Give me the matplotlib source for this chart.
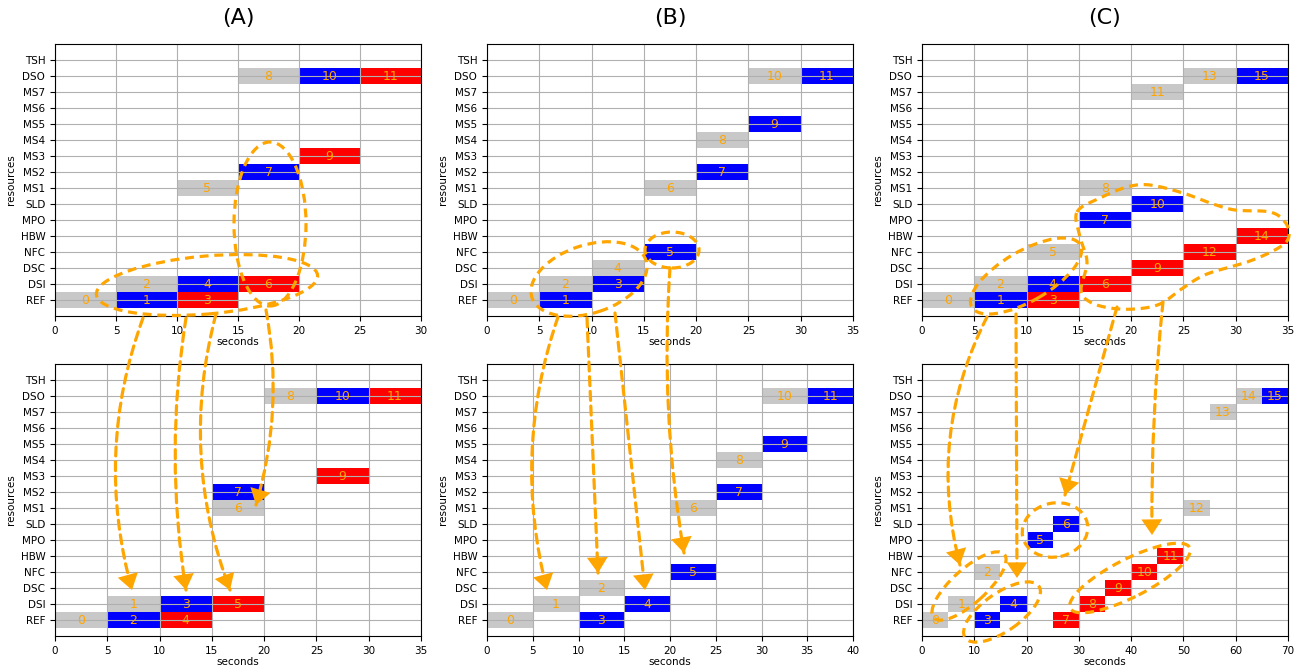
import numpy as np
import matplotlib
matplotlib.use("Agg")
import matplotlib.pyplot as plt
from matplotlib.patches import Ellipse, FancyArrowPatch, PathPatch
from matplotlib.path import Path
from matplotlib.transforms import Affine2D

RESOURCES = ["REF", "DSI", "DSC", "NFC", "HBW", "MPO", "SLD", "MS1",
             "MS2", "MS3", "MS4", "MS5", "MS6", "MS7", "DSO", "TSH"]
TASK_LEN = 5  # every task lasts 5 s
COLORS = {"g": "#c8c8c8", "b": "blue", "r": "red"}

# (A) top / bottom
a_top_res = ["REF", "REF", "DSI", "REF", "DSI", "MS1", "DSI", "MS2", "DSO", "MS3", "DSO", "DSO"]
a_top_start = [0, 5, 5, 10, 10, 10, 15, 15, 15, 20, 20, 25]
a_top_kind = ["g", "b", "g", "r", "b", "g", "r", "b", "g", "r", "b", "r"]

a_bot_res = ["REF", "DSI", "REF", "DSI", "REF", "DSI", "MS1", "MS2", "DSO", "MS3", "DSO", "DSO"]
a_bot_start = [0, 5, 5, 10, 10, 15, 15, 15, 20, 25, 25, 30]
a_bot_kind = ["g", "g", "b", "b", "r", "r", "g", "b", "g", "r", "b", "r"]

# (B) top / bottom
b_top_res = ["REF", "REF", "DSI", "DSI", "DSC", "NFC", "MS1", "MS2", "MS4", "MS5", "DSO", "DSO"]
b_top_start = [0, 5, 5, 10, 10, 15, 15, 20, 20, 25, 25, 30]
b_top_kind = ["g", "b", "g", "b", "g", "b", "g", "b", "g", "b", "g", "b"]

b_bot_res = ["REF", "DSI", "DSC", "REF", "DSI", "NFC", "MS1", "MS2", "MS4", "MS5", "DSO", "DSO"]
b_bot_start = [0, 5, 10, 10, 15, 20, 20, 25, 25, 30, 30, 35]
b_bot_kind = ["g", "g", "g", "b", "b", "b", "g", "b", "g", "b", "g", "b"]

# (C) top / bottom
c_top_res = ["REF", "REF", "DSI", "REF", "DSI", "NFC", "DSI", "MPO", "MS1", "DSC",
             "SLD", "MS7", "NFC", "DSO", "HBW", "DSO"]
c_top_start = [0, 5, 5, 10, 10, 10, 15, 15, 15, 20, 20, 20, 25, 25, 30, 30]
c_top_kind = ["g", "b", "g", "r", "b", "g", "r", "b", "g", "r", "b", "g", "r", "g", "r", "b"]

c_bot_res = ["REF", "DSI", "NFC", "REF", "DSI", "MPO", "SLD", "REF", "DSI", "DSC",
             "NFC", "HBW", "MS1", "MS7", "DSO", "DSO"]
c_bot_start = [0, 5, 10, 10, 15, 20, 25, 25, 30, 35, 40, 45, 50, 55, 60, 65]
c_bot_kind = ["g", "g", "g", "b", "b", "b", "b", "r", "r", "r", "r", "r", "g", "g", "g", "b"]

PANELS = [
    # title, row, col, res, start, kind, xmax, xstep
    ("(A)", 0, 0, a_top_res, a_top_start, a_top_kind, 30, 5),
    (None, 1, 0, a_bot_res, a_bot_start, a_bot_kind, 35, 5),
    ("(B)", 0, 1, b_top_res, b_top_start, b_top_kind, 35, 5),
    (None, 1, 1, b_bot_res, b_bot_start, b_bot_kind, 40, 5),
    ("(C)", 0, 2, c_top_res, c_top_start, c_top_kind, 35, 5),
    (None, 1, 2, c_bot_res, c_bot_start, c_bot_kind, 70, 10),
]

W, H = 1302, 671
COL_LEFT = [55, 487, 922]
AX_W = 366
ROW_TOP = [44, 364]
AX_H = 272


def draw_schedule(ax, res, start, kind, xmax, xstep):
    y = [RESOURCES.index(r) for r in res]
    ax.barh(y, [TASK_LEN] * len(y), left=start, height=1.0,
            color=[COLORS[k] for k in kind])
    for i, (yy, s) in enumerate(zip(y, start)):
        ax.text(s + TASK_LEN / 2, yy, str(i), ha="center", va="center",
                color="orange", fontsize=9)
    ax.set_yticks(range(len(RESOURCES)))
    ax.set_yticklabels(RESOURCES)
    ax.set_ylim(-1, len(RESOURCES))
    ax.set_xlim(0, xmax)
    ax.set_xticks(np.arange(0, xmax + 1, xstep))
    ax.tick_params(labelsize=7.5)
    ax.grid(True)
    ax.set_xlabel("seconds", fontsize=7.5, labelpad=1)
    ax.set_ylabel("resources", fontsize=7.5, labelpad=3)


fig = plt.figure(figsize=(W / 100, H / 100), dpi=100)

for title, row, col, res, start, kind, xmax, xstep in PANELS:
    left = COL_LEFT[col] / W
    bottom = 1 - (ROW_TOP[row] + AX_H) / H
    ax = fig.add_axes([left, bottom, AX_W / W, AX_H / H])
    draw_schedule(ax, res, start, kind, xmax, xstep)
    if title:
        fig.text((COL_LEFT[col] + AX_W / 2) / W, 1 - 18 / H, title,
                 ha="center", va="center", fontsize=16)

# ---- orange dashed annotations, placed in pixel units (origin top-left) ----
px = Affine2D().scale(1 / fig.dpi) + fig.dpi_scale_trans
ORANGE = "orange"
LW = 2.3
DASH = (0, (2.8, 1.8))


def P(x, y):
    return (x, H - y)


def ellipse(cx, cy, w, h, angle=0):
    e = Ellipse(P(cx, cy), w, h, angle=angle, fill=False, ec=ORANGE,
                lw=LW, ls=DASH, transform=px, zorder=10)
    fig.add_artist(e)


def arrow(x0, y0, x1, y1, rad=0.0):
    conn = f"arc3,rad={rad}"
    # dashed shaft
    shaft = FancyArrowPatch(P(x0, y0), P(x1, y1), arrowstyle="-",
                            connectionstyle=conn, color=ORANGE, lw=LW, ls=DASH,
                            shrinkA=0, shrinkB=0, transform=px, zorder=10)
    # solid filled head (shaft stroke hidden with lw=0)
    head = FancyArrowPatch(P(x0, y0), P(x1, y1),
                           arrowstyle="-|>,head_length=0.45,head_width=0.3",
                           mutation_scale=25, connectionstyle=conn,
                           fc=ORANGE, ec="none", lw=0, shrinkA=0, shrinkB=0,
                           transform=px, zorder=11)
    fig.add_artist(shaft)
    fig.add_artist(head)


def blob(pts, n=16):
    # closed Catmull-Rom outline through the given points
    pts = np.array([P(*p) for p in pts], float)
    m = len(pts)
    t = np.linspace(0, 1, n, endpoint=False)[:, None]
    segs = []
    for i in range(m):
        p0, p1, p2, p3 = pts[i - 1], pts[i], pts[(i + 1) % m], pts[(i + 2) % m]
        segs.append(0.5 * (2 * p1 + (-p0 + p2) * t
                           + (2 * p0 - 5 * p1 + 4 * p2 - p3) * t ** 2
                           + (-p0 + 3 * p1 - 3 * p2 + p3) * t ** 3))
    verts = np.vstack(segs + [segs[0][:1]])
    patch = PathPatch(Path(verts), fill=False, ec=ORANGE, lw=LW, ls=DASH,
                      transform=px, zorder=10)
    fig.add_artist(patch)


# (A)
ellipse(207, 285, 222, 58, 5)
ellipse(270, 224, 72, 164, 0)
arrow(143, 318, 132, 590, 0.16)
arrow(186, 318, 186, 590, 0.08)
arrow(216, 314, 230, 590, 0.16)
arrow(266, 310, 256, 505, -0.12)

# (B)
ellipse(589, 279, 120, 68, 18)
ellipse(672, 250, 54, 36, 0)
arrow(558, 317, 547, 590, 0.15)
arrow(587, 318, 598, 573, 0.0)
arrow(615, 313, 645, 590, 0.0)
arrow(670, 268, 684, 553, 0.06)

# (C)
ellipse(1026, 276, 125, 50, 30)
blob([(1077, 212), (1100, 198), (1127, 187), (1150, 185), (1183, 193),
      (1210, 203), (1235, 210), (1270, 212), (1285, 222), (1289, 236),
      (1280, 247), (1250, 261), (1207, 274), (1183, 288), (1160, 304),
      (1135, 309), (1110, 308), (1090, 302), (1081, 290), (1087, 262),
      (1080, 237)])
arrow(987, 317, 960, 565, 0.19)
arrow(1016, 314, 1017, 578, 0.0)
arrow(1117, 307, 1065, 495, 0.0)
arrow(1163, 302, 1152, 535, 0.03)
ellipse(969, 586, 95, 34, 42)
ellipse(1002, 612, 90, 38, 35)
ellipse(1055, 530, 66, 54, 12)
ellipse(1130, 578, 134, 38, 27)

fig.savefig("out.png", dpi=100)
